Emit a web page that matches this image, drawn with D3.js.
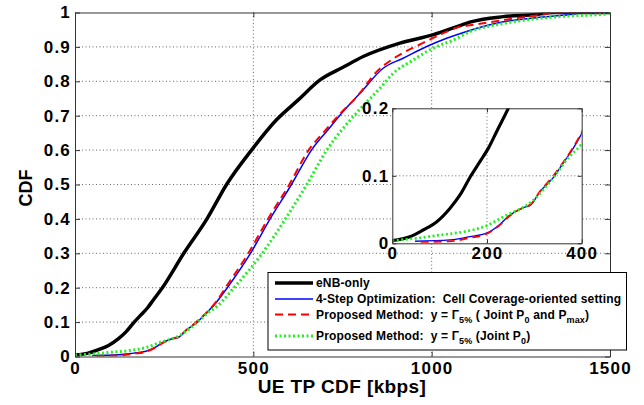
<!DOCTYPE html>
<html>
<head>
<meta charset="utf-8">
<script src="https://cdn.jsdelivr.net/npm/d3@7"></script>
<style>
  body { margin: 0; background: #fff; }
  svg { font-family: "Liberation Sans", Arial, sans-serif; font-weight: bold; }
</style>
</head>
<body>
<script>
// CDF of UE throughput (kbps) per scheme
const enbTP  = [0, 37, 65, 94, 122, 143, 166, 185, 203, 220, 245, 305, 370, 425, 495, 565, 626, 687, 750, 808, 911, 1003, 1079, 1107, 1201, 1294, 1340, 1500];
const enbCDF = [0.004, 0.0098, 0.0197, 0.032, 0.052, 0.0716, 0.1, 0.121, 0.141, 0.165, 0.2, 0.3, 0.4, 0.5, 0.6, 0.688, 0.746, 0.804, 0.84, 0.872, 0.911, 0.935, 0.962, 0.972, 0.988, 0.994, 1, 1];

const stepTP  = [48, 122, 164, 199, 227, 245, 277, 291, 312, 343, 362, 382, 398, 427, 492, 547, 607, 663, 710, 750, 799, 864, 920, 986, 1042, 1098, 1201, 1294, 1388, 1430, 1500];
const stepCDF = [0.003, 0.005, 0.0098, 0.015, 0.028, 0.04, 0.053, 0.056, 0.0765, 0.1, 0.12, 0.1407, 0.16, 0.2, 0.3, 0.4, 0.5, 0.6, 0.66, 0.71, 0.765, 0.838, 0.867, 0.901, 0.925, 0.945, 0.973, 0.985, 0.994, 1, 1];

const jointTP  = [60, 120, 164, 199, 227, 245, 277, 291, 312, 340, 361, 382, 398, 422, 486, 541, 601, 655, 700, 738, 790, 846, 902, 967, 1023, 1079, 1107, 1201, 1303, 1350, 1500];
const jointCDF = [0.002, 0.003, 0.008, 0.014, 0.027, 0.039, 0.053, 0.057, 0.077, 0.1, 0.12, 0.142, 0.162, 0.2, 0.3, 0.4, 0.5, 0.6, 0.655, 0.7, 0.755, 0.828, 0.872, 0.907, 0.935, 0.959, 0.963, 0.978, 0.993, 1, 1];

const p0TP  = [0, 51, 101, 150, 199, 234, 298, 343, 371, 398, 446, 525, 590, 650, 706, 785, 855, 892, 949, 1003, 1061, 1107, 1201, 1294, 1388, 1482, 1500];
const p0CDF = [0.004, 0.0074, 0.0123, 0.017, 0.026, 0.039, 0.064, 0.1, 0.126, 0.1456, 0.2, 0.3, 0.4, 0.5, 0.6, 0.703, 0.78, 0.823, 0.862, 0.896, 0.92, 0.944, 0.968, 0.982, 0.99, 0.995, 1];

const xTicks = [0, 500, 1000, 1500];
const yTicks = d3.range(0, 11).map(i => i / 10);
const insetXTicks = [0, 200, 400];
const insetYTicks = [0, 0.1, 0.2];

const series = [
  { tp: enbTP,   cdf: enbCDF,   color: "#000",    width: 3.5, dash: null },
  { tp: stepTP,  cdf: stepCDF,  color: "#0000ff", width: 1.5, dash: null },
  { tp: jointTP, cdf: jointCDF, color: "#ff0000", width: 2,   dash: "8,5" },
  { tp: p0TP,    cdf: p0CDF,    color: "#22ee22", width: 3,   dash: "2,2.5" }
];

const svg = d3.select("body").append("svg")
  .attr("width", 644)
  .attr("height", 405);

const x = d3.scaleLinear().domain([0, 1500]).range([75, 610]);
const y = d3.scaleLinear().domain([0, 1]).range([356.5, 12.5]);

svg.append("clipPath").attr("id", "clipMain")
  .append("rect").attr("x", 75).attr("y", 12.5).attr("width", 535).attr("height", 344);

// grid
const grid = svg.append("g").attr("stroke", "#444").attr("stroke-width", 0.8).attr("stroke-dasharray", "1,2.5");
grid.selectAll(".gy").data(yTicks.slice(1, -1)).join("line")
  .attr("x1", 75).attr("x2", 610).attr("y1", d => y(d)).attr("y2", d => y(d));
grid.selectAll(".gx").data(xTicks.slice(1, -1)).join("line")
  .attr("y1", y(0)).attr("y2", y(1)).attr("x1", d => x(d)).attr("x2", d => x(d));

function drawCurves(g, xs, ys, clipId, scale) {
  series.forEach(s => {
    const pts = s.tp.map((v, i) => [v, s.cdf[i]]);
    g.append("path")
      .datum(pts)
      .attr("clip-path", "url(#" + clipId + ")")
      .attr("fill", "none")
      .attr("stroke", s.color)
      .attr("stroke-width", s.width * scale)
      .attr("stroke-dasharray", s.dash)
      .attr("d", d3.line().x(d => xs(d[0])).y(d => ys(d[1])).curve(d3.curveMonotoneX));
  });
}

drawCurves(svg.append("g"), x, y, "clipMain", 1);

function styleAxis(a) {
  a.selectAll("path, line").attr("stroke", "#333");
  a.selectAll("text").attr("fill", "#000").style("font-size", "17px").style("font-weight", "bold")
    .style("letter-spacing", "1.2px")
    .style("font-family", "'Liberation Sans', Arial, sans-serif");
}

// axes (MATLAB style: inward ticks, box)
const fmt = d3.format(".1~f");
const axB = svg.append("g").attr("transform", "translate(0," + y(0) + ")")
  .call(d3.axisBottom(x).tickValues(xTicks).tickFormat(d3.format("d")).tickSizeInner(-5).tickSizeOuter(0).tickPadding(5));
const axL = svg.append("g").attr("transform", "translate(" + x(0) + ",0)")
  .call(d3.axisLeft(y).tickValues(yTicks).tickFormat(fmt).tickSizeInner(-5).tickSizeOuter(0).tickPadding(4));
const axT = svg.append("g").attr("transform", "translate(0," + y(1) + ")")
  .call(d3.axisTop(x).tickValues(xTicks).tickSizeInner(-5).tickSizeOuter(0).tickFormat(""));
const axR = svg.append("g").attr("transform", "translate(" + x(1500) + ",0)")
  .call(d3.axisRight(y).tickValues(yTicks).tickSizeInner(-5).tickSizeOuter(0).tickFormat(""));
[axB, axL, axT, axR].forEach(styleAxis);

svg.append("text").attr("x", 342).attr("y", 393).attr("text-anchor", "middle")
  .style("font-size", "19px").style("letter-spacing", "0.4px").text("UE TP CDF [kbps]");
svg.append("text").attr("transform", "translate(32,188) rotate(-90)").attr("text-anchor", "middle")
  .style("font-size", "18px").text("CDF");

// inset zoom on the lower tail
const xi = d3.scaleLinear().domain([0, 400]).range([392.3, 581.7]);
const yi = d3.scaleLinear().domain([0, 0.2]).range([243.3, 108.3]);
svg.append("clipPath").attr("id", "clipInset")
  .append("rect").attr("x", 392.3).attr("y", 108.3).attr("width", 189.4).attr("height", 135);
const inset = svg.append("g");
inset.append("rect").attr("x", 392.3).attr("y", 108.3).attr("width", 189.4).attr("height", 135).attr("fill", "#fff");
const igrid = inset.append("g").attr("stroke", "#444").attr("stroke-width", 0.8).attr("stroke-dasharray", "1,2.5");
igrid.append("line").attr("x1", xi(200)).attr("x2", xi(200)).attr("y1", yi(0)).attr("y2", yi(0.2));
igrid.append("line").attr("x1", xi(0)).attr("x2", xi(400)).attr("y1", yi(0.1)).attr("y2", yi(0.1));
drawCurves(inset.append("g"), xi, yi, "clipInset", 0.9);

const iB = inset.append("g").attr("transform", "translate(0," + yi(0) + ")")
  .call(d3.axisBottom(xi).tickValues(insetXTicks).tickSizeInner(-4).tickSizeOuter(0).tickPadding(4));
const iL = inset.append("g").attr("transform", "translate(" + xi(0) + ",0)")
  .call(d3.axisLeft(yi).tickValues(insetYTicks).tickFormat(fmt).tickSizeInner(-4).tickSizeOuter(0).tickPadding(3));
const iT = inset.append("g").attr("transform", "translate(0," + yi(0.2) + ")")
  .call(d3.axisTop(xi).tickValues(insetXTicks).tickSizeInner(-4).tickSizeOuter(0).tickFormat(""));
const iR = inset.append("g").attr("transform", "translate(" + xi(400) + ",0)")
  .call(d3.axisRight(yi).tickValues(insetYTicks).tickSizeInner(-4).tickSizeOuter(0).tickFormat(""));
[iB, iL, iT, iR].forEach(styleAxis);

// legend
const leg = svg.append("g");
leg.append("rect").attr("x", 268).attr("y", 272.5).attr("width", 358.5).attr("height", 77.5)
  .attr("fill", "#fff").attr("stroke", "#000").attr("stroke-width", 1);
const legRows = [283, 299, 314.5, 336];
legRows.forEach((ry, i) => {
  const s = series[i];
  leg.append("line").attr("x1", 275).attr("x2", 313).attr("y1", ry).attr("y2", ry)
    .attr("stroke", s.color).attr("stroke-width", s.width).attr("stroke-dasharray", s.dash);
});
const lt = (ry) => leg.append("text").attr("x", 316).attr("y", ry + 4).style("font-size", "12px")
  .style("letter-spacing", "0.15px")
  .attr("xml:space", "preserve").style("white-space", "pre");
lt(legRows[0]).text("eNB-only");
lt(legRows[1]).text("4-Step Optimization:  Cell Coverage-oriented setting");
const t3 = lt(legRows[2]);
t3.append("tspan").text("Proposed Method:  y = Γ");
t3.append("tspan").attr("dy", 4).style("font-size", "9px").text("5%");
t3.append("tspan").attr("dy", -4).text(" ( Joint P");
t3.append("tspan").attr("dy", 4).style("font-size", "9px").text("0");
t3.append("tspan").attr("dy", -4).text(" and P");
t3.append("tspan").attr("dy", 4).style("font-size", "9px").text("max");
t3.append("tspan").attr("dy", -4).text(")");
const t4 = lt(legRows[3]);
t4.append("tspan").text("Proposed Method:  y = Γ");
t4.append("tspan").attr("dy", 4).style("font-size", "9px").text("5%");
t4.append("tspan").attr("dy", -4).text(" (Joint P");
t4.append("tspan").attr("dy", 4).style("font-size", "9px").text("0");
t4.append("tspan").attr("dy", -4).text(")");
</script>
</body>
</html>
